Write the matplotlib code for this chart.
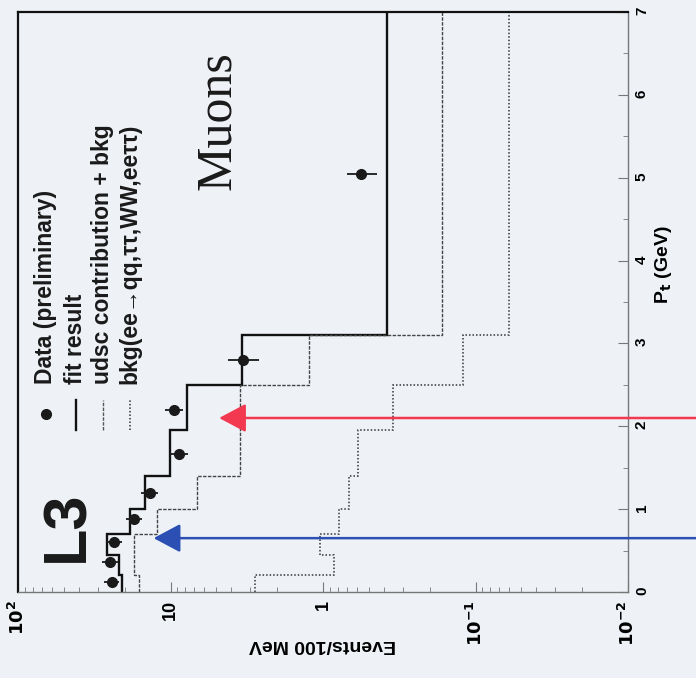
import matplotlib
matplotlib.use("Agg")
import matplotlib.pyplot as plt
from matplotlib.ticker import FixedLocator, FixedFormatter, LogLocator, MultipleLocator, NullFormatter

plt.rcParams['font.family'] = ['Liberation Sans', 'DejaVu Sans']

# P_t bin edges (GeV) and histogram contents (events / 100 MeV)
pt_edges = [0.0, 0.2, 0.45, 0.7, 1.0, 1.4, 1.95, 2.5, 3.1, 7.0]
fit_result = [20.8, 21.8, 26.1, 18.5, 14.8, 10.1, 7.8, 3.42, 0.38]
udsc_bkg = [16.1, 17.4, 17.4, 12.3, 6.7, 3.52, 3.52, 1.24, 0.165]
bkg_only = [2.8, 0.85, 1.05, 0.78, 0.68, 0.59, 0.345, 0.12, 0.06]

# data points (preliminary)
data_pt = [0.12, 0.36, 0.60, 0.88, 1.19, 1.67, 2.20, 2.80, 5.04]
data_val = [24.3, 25.0, 23.5, 17.4, 13.7, 8.8, 9.5, 3.37, 0.56]
data_err_lo = [2.7, 2.8, 2.7, 2.0, 1.6, 1.1, 1.2, 0.75, 0.12]
data_err_hi = [3.2, 3.3, 3.1, 2.3, 1.8, 1.3, 1.3, 0.80, 0.14]

# arrows: (P_t position, tip value, colour)
arrow_pt = [2.1, 0.65]
arrow_tip = [4.8, 12.9]
arrow_col = ['#f2394f', '#2c4fb4']

event_ticks = [0.01, 0.1, 1, 10, 100]
event_labels = ['$\\mathbf{10^{-2}}$', '$\\mathbf{10^{-1}}$', '1', '10', '$\\mathbf{10^{2}}$']

BG = '#eef2f7'
W, H = 696, 678
AX_L, AX_R, AX_T, AX_B = 18, 628, 12, 592


def frac(px, py):
    """pixel position in the picture -> axes fraction"""
    return (px - AX_L) / (AX_R - AX_L), (AX_B - py) / (AX_B - AX_T)


fig = plt.figure(figsize=(W / 100, H / 100), dpi=100, facecolor=BG)
ax = fig.add_axes([AX_L / W, (H - AX_B) / H, (AX_R - AX_L) / W, (AX_B - AX_T) / H])
ax.set_facecolor(BG)

# the whole plot is turned by 90 degrees: P_t runs upward, events run leftward
ax.set_xscale('log')
ax.set_xlim(100, 0.01)
ax.set_ylim(0, 7)

ax.stairs(fit_result, pt_edges, orientation='horizontal', baseline=None,
          color='#111111', lw=1.7)
ax.stairs(udsc_bkg, pt_edges, orientation='horizontal', baseline=None,
          color='#444444', lw=1.0, ls=(0, (2.5, 1.0)))
ax.stairs(bkg_only, pt_edges, orientation='horizontal', baseline=None,
          color='#333333', lw=1.1, ls=(0, (1.0, 1.3)))

ax.errorbar(data_val, data_pt, xerr=[data_err_lo, data_err_hi], fmt='o',
            color='#1a1a1a', ms=7, elinewidth=1.3, capsize=0, zorder=5)

for pt, tip, col in zip(arrow_pt, arrow_tip, arrow_col):
    ax.annotate('', xy=(tip, pt), xycoords='data',
                xytext=(1.15, pt), textcoords=('axes fraction', 'data'),
                arrowprops=dict(arrowstyle='-|>,head_length=0.75,head_width=0.4',
                                color=col, lw=1.8, mutation_scale=22,
                                shrinkA=0, shrinkB=0),
                annotation_clip=False, zorder=6)

# axes, ticks
ax.xaxis.set_major_locator(FixedLocator(event_ticks))
ax.xaxis.set_major_formatter(FixedFormatter(event_labels))
ax.xaxis.set_minor_locator(LogLocator(base=10, subs=range(2, 10)))
ax.xaxis.set_minor_formatter(NullFormatter())
ax.yaxis.tick_right()
ax.yaxis.set_major_locator(MultipleLocator(1))
ax.yaxis.set_minor_locator(MultipleLocator(0.5))

ax.tick_params(axis='x', which='both', direction='in', labelrotation=90,
               labelsize=13, pad=6, color='#777777')
ax.tick_params(axis='y', which='both', direction='in', labelrotation=90,
               labelsize=11, pad=5, color='#777777')
ax.tick_params(which='major', length=7)
ax.tick_params(which='minor', length=3.5)
for lab in ax.get_xticklabels() + ax.get_yticklabels():
    lab.set_fontweight('bold')

for side in ['top', 'left']:
    ax.spines[side].set_color('#111111')
    ax.spines[side].set_linewidth(1.6)
for side in ['bottom', 'right']:
    ax.spines[side].set_color('#777777')
    ax.spines[side].set_linewidth(1.0)

ax.text(*frac(663, 265), 'P$_\\mathbf{t}$ (GeV)', transform=ax.transAxes, rotation=90,
        ha='center', va='center', fontsize=14, fontweight='bold', clip_on=False)
ax.text(*frac(322, 645), 'Events/100 MeV', transform=ax.transAxes, rotation=180,
        ha='center', va='center', fontsize=14, fontweight='bold', clip_on=False)

# labels inside the frame
ax.text(*frac(68, 526), 'L3', transform=ax.transAxes, rotation=90,
        ha='center', va='center', fontsize=44, fontweight='bold', color='#1a1a1a')
ax.text(*frac(218, 121), 'Muons', transform=ax.transAxes, rotation=90,
        ha='center', va='center', fontsize=36, family='Liberation Serif',
        color='#1a1a1a')

# legend, drawn by hand because it is turned with the plot
legend_text = ['Data (preliminary)', 'fit result', 'udsc contribution + bkg',
               'bkg(ee\u2192qq,\u03c4\u03c4,WW,ee\u03c4\u03c4)']
legend_x = [46, 76, 103, 130]
ax.plot(*frac(legend_x[0], 414), 'o', color='#1a1a1a', ms=7, transform=ax.transAxes)
styles = [dict(color='#111111', lw=1.7, ls='-'),
          dict(color='#555555', lw=1.0, ls=(0, (2.5, 1.0))),
          dict(color='#333333', lw=1.1, ls=(0, (1.0, 1.3)))]
for px, st in zip(legend_x[1:], styles):
    x0, y0 = frac(px, 430)
    x1, y1 = frac(px, 400)
    ax.plot([x0, x1], [y0, y1], transform=ax.transAxes, **st)
for px, txt in zip(legend_x, legend_text):
    ax.text(*frac(px, 384), txt, transform=ax.transAxes, rotation=90,
            ha='center', va='bottom', fontsize=16.5, fontweight='bold', color='#1a1a1a')

fig.savefig('out.png', dpi=100, facecolor=BG)
